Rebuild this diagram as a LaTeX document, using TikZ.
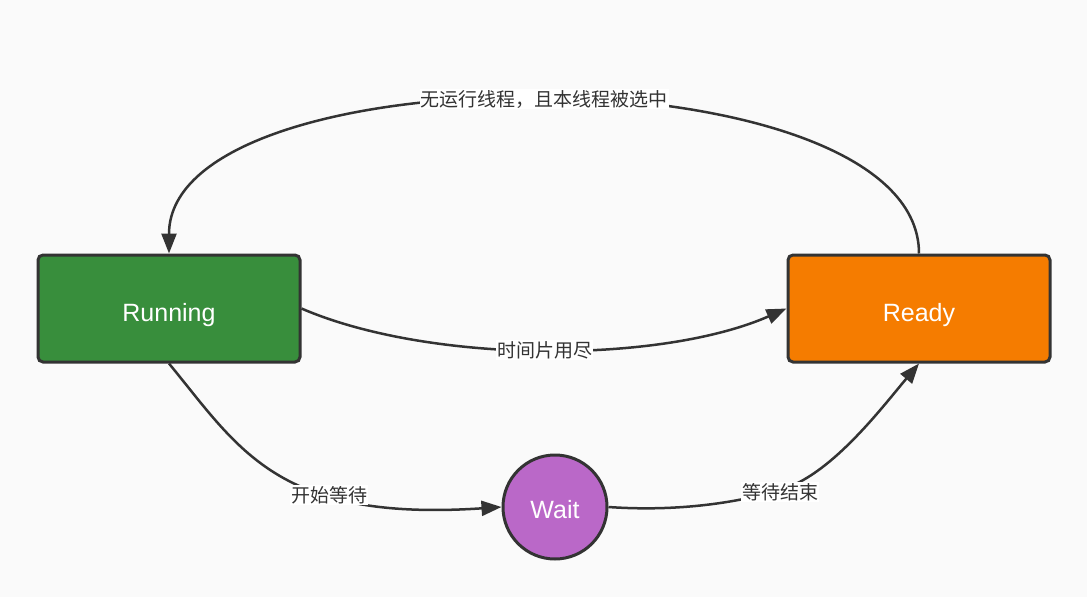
\documentclass[tikz,border=0pt]{standalone}
\usepackage{fontspec}
\setmainfont{Liberation Sans}
\newfontfamily\cjk{Noto Sans CJK SC}
\usetikzlibrary{arrows.meta}
\definecolor{bgc}{HTML}{FAFAFA}
\definecolor{edgec}{HTML}{333333}
\definecolor{runc}{HTML}{388E3C}
\definecolor{readyc}{HTML}{F57C00}
\definecolor{waitc}{HTML}{BA68C8}
\tikzset{
  statebox/.style={draw=edgec, line width=3pt, rounded corners=5pt, minimum width=262pt, minimum height=107pt, text=white, font=\fontsize{25}{29}\selectfont, inner sep=0pt},
  waitnode/.style={circle, draw=edgec, line width=3pt, fill=waitc, minimum size=104pt, text=white, font=\fontsize{25}{29}\selectfont, inner sep=0pt},
  conn/.style={draw=edgec, line width=2.5pt, -{Triangle[length=20pt,width=15pt]}},
  lbl/.style={fill=white, text=edgec, font=\cjk\fontsize{19}{21}\selectfont, inner sep=1pt}
}
\begin{document}
\begin{tikzpicture}[x=1pt,y=-1pt]
\useasboundingbox[fill=bgc] (0,0) rectangle (1087,597);
\node[statebox, fill=runc] (run) at (169,308.5) {\raisebox{-12.5pt}[0pt][0pt]{Running}};
\node[statebox, fill=readyc] (ready) at (919,308.5) {\raisebox{-12.5pt}[0pt][0pt]{Ready}};
\node[waitnode] (wait) at (555,507) {\raisebox{-11pt}[0pt][0pt]{Wait}};
% top arc
\draw[conn] (ready.north) .. controls (919,48) and (169,48) .. (run.north)
  node[pos=0.5, lbl] {无运行线程，且本线程被选中};
% running -> ready
\draw[conn] (run.east) .. controls (430,364) and (660,364) .. (ready.west)
  node[pos=0.5, lbl] {时间片用尽};
% running -> wait
\draw[conn] (run.south) .. controls (240,450) and (278,522) .. (wait.west)
  node[pos=0.66, lbl] {开始等待};
% wait -> ready
\coordinate (wr) at (780,490);
\draw[conn] (wait.east) .. controls (680,512) and (740,502) .. (wr)
  .. controls (830,476) and (880,410) .. (ready.south);
\node[lbl] (wrl) at (780,492) {等待结束};
\end{tikzpicture}
\end{document}
